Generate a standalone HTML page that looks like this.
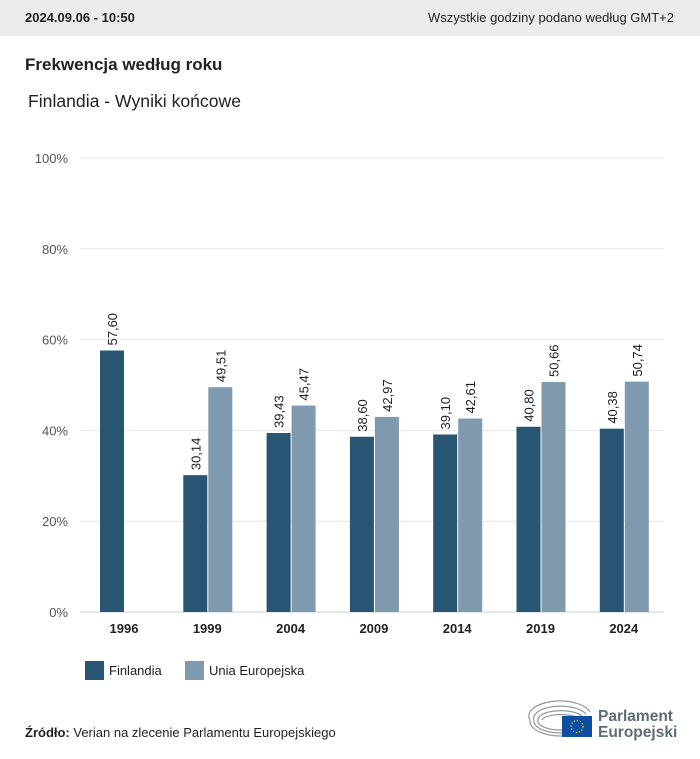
<!DOCTYPE html>
<html><head><meta charset="utf-8"><style>
body{margin:0;width:700px;height:759px;background:#fff;font-family:"Liberation Sans",sans-serif;position:relative;overflow:hidden}
.hdr{position:absolute;left:0;top:0;width:700px;height:36px;background:#ebebeb;font-size:13px;color:#222}
</style></head><body>
<div class="hdr">
<span style="position:absolute;left:25px;top:10px;font-weight:bold">2024.09.06 - 10:50</span>
<span style="position:absolute;right:26px;top:10px">Wszystkie godziny podano według GMT+2</span>
</div>
<div style="position:absolute;left:25px;top:55px;font-size:17px;font-weight:bold;color:#222">Frekwencja według roku</div>
<div style="position:absolute;left:28px;top:91px;font-size:17.6px;color:#222">Finlandia - Wyniki końcowe</div>
<svg id="chart" width="700" height="759" style="position:absolute;left:0;top:0"></svg>
<div style="position:absolute;left:25px;top:725px;font-size:13px;color:#222"><b>Źródło:</b> Verian na zlecenie Parlamentu Europejskiego</div>
<svg style="position:absolute;left:528px;top:700px" width="150" height="42">
<g fill="none" stroke="#8f98a0" stroke-width="1.2">
<path d="M2 20 A31 15 0 0 1 62 12"/><path d="M6 20 A27 12 0 0 1 58 14"/><path d="M10 20 A23 9 0 0 1 54 16"/><path d="M14 20 A19 6 0 0 1 50 18"/>
<path d="M2 20 A31 15 0 0 0 34 36"/><path d="M6 20 A27 12 0 0 0 34 33"/><path d="M10 20 A23 9 0 0 0 34 30"/></g>
<rect x="34" y="16" width="30" height="21" fill="#0c4ea2"/>
<circle cx="49" cy="26.5" r="6" fill="none" stroke="#f5d300" stroke-width="1.4" stroke-dasharray="1.2 1.9"/>
<text x="70" y="21" font-size="15.5" font-weight="bold" fill="#5f6b75">Parlament</text>
<text x="70" y="37" font-size="15.5" font-weight="bold" fill="#5f6b75">Europejski</text>
</svg>
<script>
const years=["1996","1999","2004","2009","2014","2019","2024"];
const fin=[57.60,30.14,39.43,38.60,39.10,40.80,40.38];
const eu=[null,49.51,45.47,42.97,42.61,50.66,50.74];
const ticks=[0,20,40,60,80,100];
const NS="http://www.w3.org/2000/svg",svg=document.getElementById('chart');
const y=v=>612-v*4.54, cx=i=>124+i*83.3;
function mk(t,a){const e=document.createElementNS(NS,t);for(const k in a)e.setAttribute(k,a[k]);svg.appendChild(e);return e;}
ticks.forEach(t=>{
const l=mk('line',{x1:80,x2:664,y1:y(t),y2:y(t),stroke:t?'#e4e4e4':'#c5d0e0','stroke-width':1});


const tx=mk('text',{x:68,y:y(t)+5,'text-anchor':'end','font-size':13,fill:'#555'});tx.textContent=t+'%';


});
function bar(x,v,col,name){
const r=mk('rect',{x:x,y:y(v),width:24,height:612-y(v),fill:col});


const t=mk('text',{transform:`translate(${x+17},${y(v)-5}) rotate(-90)`,'font-size':13,fill:'#222'});
t.textContent=v.toFixed(2).replace('.',',');


}
years.forEach((yr,i)=>{
const c=cx(i);
if(fin[i]!=null)bar(c-24,fin[i],'#275572','bar-finlandia-'+yr);
if(eu[i]!=null)bar(c+1,eu[i],'#7f9aae','bar-eu-'+yr);
const t=mk('text',{x:c,y:633,'text-anchor':'middle','font-size':13,'font-weight':'bold',fill:'#222'});t.textContent=yr;


});
[[85,'#275572','Finlandia','legend-finlandia'],[185,'#7f9aae','Unia Europejska','legend-eu']].forEach(([x,c,s,n])=>{
const g=mk('g',{});


const r=document.createElementNS(NS,'rect');r.setAttribute('x',x);r.setAttribute('y',661);r.setAttribute('width',19);r.setAttribute('height',19);r.setAttribute('fill',c);g.appendChild(r);
const t=document.createElementNS(NS,'text');t.setAttribute('x',x+24);t.setAttribute('y',675);t.setAttribute('font-size',13);t.setAttribute('fill','#222');t.textContent=s;g.appendChild(t);
});
</script>
</body></html>
